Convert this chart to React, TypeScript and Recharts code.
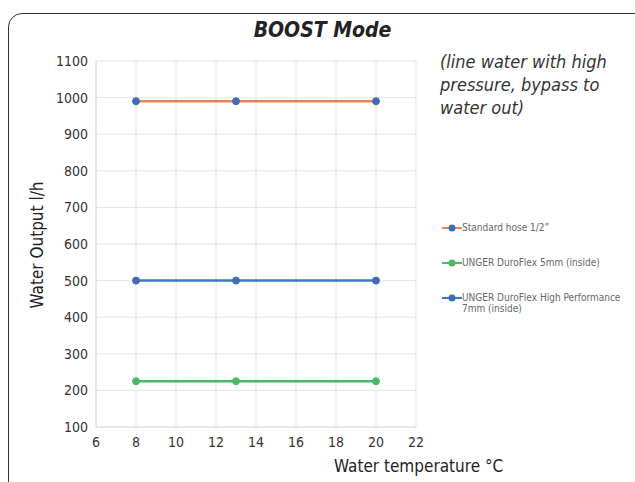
import { CartesianGrid, Line, LineChart, XAxis, YAxis } from "recharts";

const temperatures = [8, 13, 20];
const standardHose = [990, 990, 990];
const duroFlex5 = [225, 225, 225];
const duroFlexHP7 = [500, 500, 500];

const xTicks = [6, 8, 10, 12, 14, 16, 18, 20, 22];
const yTicks = [100, 200, 300, 400, 500, 600, 700, 800, 900, 1000, 1100];

const SERIES = [
  { key: "standard", name: "Standard hose 1/2\u201d", line: "#e9834f", dot: "#3e6db5" },
  { key: "df5", name: "UNGER DuroFlex 5mm (inside)", line: "#4db863", dot: "#4db863" },
  { key: "df7", name: "UNGER DuroFlex High Performance 7mm (inside)", line: "#3e78c0", dot: "#3e6db5" },
];

const data = temperatures.map((t, i) => ({
  temp: t,
  standard: standardHose[i],
  df5: duroFlex5[i],
  df7: duroFlexHP7[i],
}));

const FONT = "'DejaVu Sans Condensed', 'Roboto', sans-serif";

function LegendBox() {
  return (
    <div style={{ fontFamily: FONT, fontSize: 10, color: "#666", width: 185 }}>
      {SERIES.map((s) => (
        <div key={s.key} style={{ display: "flex", alignItems: "flex-start", height: 35 }}>
          <svg width={20} height={10} style={{ flexShrink: 0, marginTop: 1 }}>
            <line x1={0} y1={5} x2={20} y2={5} stroke={s.line} strokeWidth={2} />
            <circle cx={10} cy={5} r={3.5} fill={s.dot} />
          </svg>
          <span style={{ lineHeight: "11px" }}>{s.name}</span>
        </div>
      ))}
    </div>
  );
}

export default function App() {
  return (
    <div style={{ position: "absolute", left: 0, top: 0, width: 635, height: 482, background: "#fff", overflow: "hidden" }}>
      <div
        style={{
          position: "absolute",
          left: 8,
          top: 13,
          width: 640,
          height: 500,
          border: "1.5px solid #333",
          borderRadius: 14,
        }}
      />
      <div
        style={{
          position: "absolute",
          left: 0,
          width: 645,
          top: 18,
          textAlign: "center",
          fontFamily: FONT,
          fontWeight: "bold",
          fontStyle: "italic",
          fontSize: 21,
          color: "#222",
        }}
      >
        BOOST Mode
      </div>
      <div
        style={{
          position: "absolute",
          left: 440,
          top: 50,
          width: 200,
          fontFamily: FONT,
          fontStyle: "italic",
          fontSize: 18,
          lineHeight: "23px",
          color: "#333",
        }}
      >
        (line water with high pressure, bypass to water out)
      </div>
      <div
        style={{
          position: "absolute",
          left: 334,
          top: 456,
          fontFamily: FONT,
          fontSize: 17,
          color: "#222",
        }}
      >
        Water temperature °C
      </div>
      <div
        style={{
          position: "absolute",
          left: 37,
          top: 245,
          transform: "translate(-50%, -50%) rotate(-90deg)",
          whiteSpace: "nowrap",
          fontFamily: FONT,
          fontSize: 17,
          color: "#222",
        }}
      >
        Water Output l/h
      </div>
      <div style={{ position: "absolute", left: 0, top: 0 }}>
        <LineChart width={635} height={482} data={data} margin={{ top: 61, right: 219, bottom: 35, left: 56 }}>
          <CartesianGrid stroke="#e8e4e2" />
          <XAxis
            dataKey="temp"
            type="number"
            domain={[6, 22]}
            ticks={xTicks}
            interval={0}
            tickLine={false}
            axisLine={{ stroke: "#ddd" }}
            tick={{ fontFamily: FONT, fontSize: 14, fill: "#333", dy: 2 }}
            height={20}
          />
          <YAxis
            type="number"
            domain={[100, 1100]}
            ticks={yTicks}
            interval={0}
            tickLine={false}
            axisLine={{ stroke: "#ddd" }}
            tick={{ fontFamily: FONT, fontSize: 14, fill: "#333" }}
            width={40}
          />
          {SERIES.map((s) => (
            <Line
              key={s.key}
              dataKey={s.key}
              name={s.name}
              stroke={s.line}
              strokeWidth={2.5}
              dot={{ r: 3.5, fill: s.dot, stroke: s.dot, strokeWidth: 1 }}
              isAnimationActive={false}
            />
          ))}
        </LineChart>
      </div>
      <div style={{ position: "absolute", left: 442, top: 222 }}>
        <LegendBox />
      </div>
    </div>
  );
}
